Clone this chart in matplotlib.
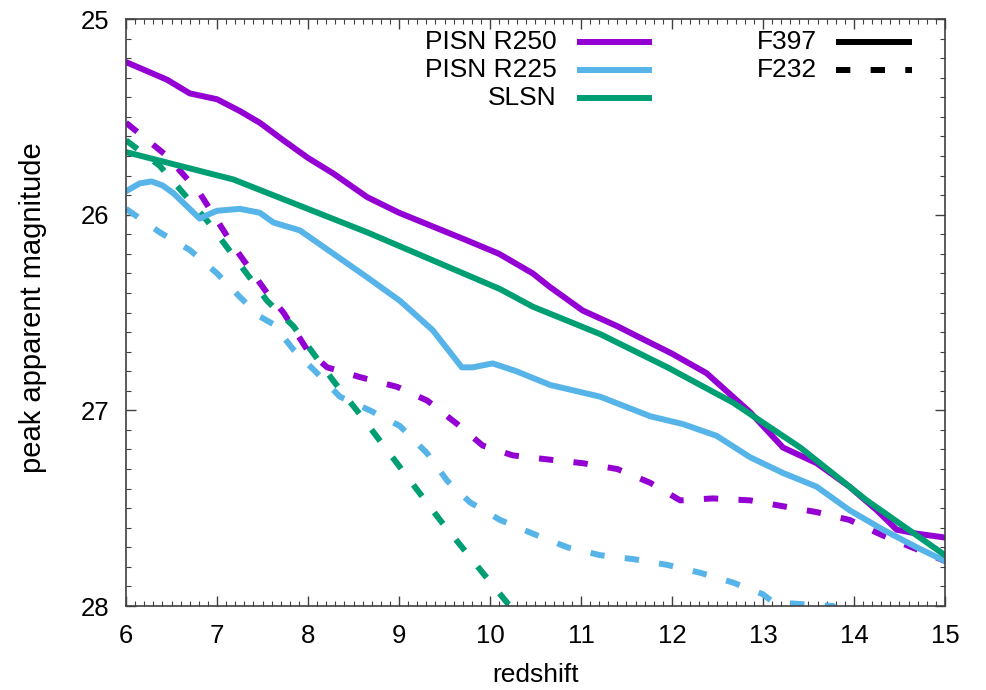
import matplotlib
matplotlib.use("Agg")
import matplotlib.pyplot as plt
from matplotlib.ticker import MultipleLocator

plt.rcParams["font.family"] = ["Liberation Sans", "DejaVu Sans"]

PURPLE = "#9400d3"
BLUE = "#56b4e9"
GREEN = "#009e73"

# PISN R250, F397 (solid)
r250_f397_z = [6.0, 6.2, 6.45, 6.7, 7.0, 7.25, 7.47, 7.73, 8.0, 8.28, 8.65, 9.0, 9.37, 9.74,
               10.1, 10.47, 10.66, 11.02, 11.4, 11.57, 12.0, 12.38, 12.86, 13.22, 13.59,
               13.95, 14.25, 14.47, 14.69, 15.0]
r250_f397_m = [25.22, 25.26, 25.31, 25.38, 25.41, 25.47, 25.53, 25.62, 25.71, 25.79, 25.91,
               25.99, 26.06, 26.13, 26.20, 26.30, 26.37, 26.49, 26.57, 26.61, 26.71, 26.81,
               27.01, 27.19, 27.27, 27.39, 27.51, 27.61, 27.63, 27.65]

# PISN R225, F397 (solid)
r225_f397_z = [6.0, 6.15, 6.28, 6.4, 6.52, 6.81, 6.9, 7.0, 7.25, 7.47, 7.62, 7.91, 8.28, 8.65,
               9.01, 9.37, 9.69, 9.81, 10.03, 10.29, 10.66, 11.21, 11.76, 12.12, 12.49,
               12.86, 13.22, 13.59, 13.95, 14.32, 14.69, 15.0]
r225_f397_m = [25.88, 25.84, 25.83, 25.85, 25.89, 26.02, 26.00, 25.98, 25.97, 25.99, 26.04,
               26.08, 26.20, 26.32, 26.44, 26.59, 26.78, 26.78, 26.76, 26.80, 26.87, 26.93,
               27.03, 27.07, 27.13, 27.24, 27.32, 27.39, 27.51, 27.61, 27.70, 27.77]

# SLSN, F397 (solid)
slsn_f397_z = [6.0, 7.18, 8.65, 10.11, 10.47, 11.21, 11.95, 12.67, 13.41, 14.14, 15.0]
slsn_f397_m = [25.68, 25.82, 26.09, 26.38, 26.47, 26.61, 26.78, 26.96, 27.19, 27.46, 27.74]

# PISN R250, F232 (dashed)
r250_f232_z = [6.0, 6.45, 6.81, 7.18, 7.55, 7.73, 7.99, 8.21, 8.57, 8.98, 9.31, 9.64, 9.92,
               10.25, 10.62, 11.02, 11.4, 11.76, 12.09, 12.45, 12.86, 13.22, 13.59, 13.95,
               14.32, 14.69, 15.0]
r250_f232_m = [25.53, 25.70, 25.89, 26.16, 26.40, 26.50, 26.69, 26.78, 26.83, 26.88, 26.95,
               27.07, 27.18, 27.23, 27.25, 27.27, 27.30, 27.37, 27.46, 27.45, 27.46, 27.49,
               27.52, 27.56, 27.64, 27.71, 27.77]

# PISN R225, F232 (dashed)
r225_f232_z = [6.0, 6.37, 6.70, 7.0, 7.25, 7.47, 7.62, 7.84, 8.1, 8.35, 8.68, 9.01, 9.31,
               9.53, 9.78, 10.11, 10.47, 10.85, 11.21, 11.57, 11.95, 12.31, 12.67, 13.0,
               13.11, 13.41, 13.77, 14.0]
r225_f232_m = [25.97, 26.09, 26.18, 26.30, 26.42, 26.52, 26.56, 26.69, 26.81, 26.93, 27.00,
               27.08, 27.22, 27.36, 27.47, 27.56, 27.63, 27.70, 27.74, 27.76, 27.79, 27.83,
               27.88, 27.94, 27.98, 27.99, 28.0, 28.1]

# SLSN, F232 (dashed)
slsn_f232_z = [6.0, 6.37, 6.63, 6.89, 7.18, 7.55, 7.84, 8.28, 8.57, 9.01, 9.45, 9.92, 10.2, 10.5]
slsn_f232_m = [25.62, 25.75, 25.89, 26.03, 26.21, 26.44, 26.57, 26.85, 27.02, 27.29, 27.56,
               27.83, 27.99, 28.16]

LW = 4.3
DASH = (0, (2.4, 3.4))  # in units of linewidth

fig = plt.figure(figsize=(9.87, 6.9), dpi=100)
ax = fig.add_axes([0.1277, 0.1217, 0.8297, 0.8507])

ax.plot(slsn_f232_z, slsn_f232_m, color=GREEN, lw=LW, linestyle=DASH)
ax.plot(r225_f232_z, r225_f232_m, color=BLUE, lw=LW, linestyle=DASH)
ax.plot(r250_f232_z, r250_f232_m, color=PURPLE, lw=LW, linestyle=DASH)
ax.plot(r225_f397_z, r225_f397_m, color=BLUE, lw=LW, solid_joinstyle="round")
ax.plot(r250_f397_z, r250_f397_m, color=PURPLE, lw=LW, solid_joinstyle="round")
ax.plot(slsn_f397_z, slsn_f397_m, color=GREEN, lw=LW, solid_joinstyle="round")

ax.set_xlim(6, 15)
ax.set_ylim(28, 25)
ax.xaxis.set_major_locator(MultipleLocator(1))
ax.xaxis.set_minor_locator(MultipleLocator(0.1))
ax.yaxis.set_major_locator(MultipleLocator(1))
ax.yaxis.set_minor_locator(MultipleLocator(0.1))
ax.tick_params(which="both", direction="in", top=True, right=True, colors="#404040",
               labelcolor="black", labelsize=18.5)
ax.tick_params(which="major", length=7, width=1.0)
ax.tick_params(which="minor", length=3.5, width=0.8)
ax.tick_params(axis="x", pad=13)
ax.tick_params(axis="y", pad=12)
for sp in ax.spines.values():
    sp.set_color("#404040")
    sp.set_linewidth(1.2)

ax.set_xlabel("redshift", fontsize=19, labelpad=11)
ax.set_ylabel("peak apparent magnitude", fontsize=21)
ax.yaxis.set_label_coords(-0.097, 0.508)

# gnuplot-style key: text right-aligned, sample line to the right
rows = [0.961, 0.913, 0.865]
left_keys = [("PISN R250", PURPLE), ("PISN R225", BLUE), ("SLSN", GREEN)]
for (lab, col), yy in zip(left_keys, rows):
    ax.text(0.526, yy, lab, transform=ax.transAxes, ha="right", va="center", fontsize=19)
    ax.plot([0.551, 0.642], [yy, yy], transform=ax.transAxes, color=col, lw=LW,
            solid_capstyle="butt", clip_on=False)
right_keys = [("F397", "-"), ("F232", DASH)]
for (lab, ls), yy in zip(right_keys, rows[:2]):
    ax.text(0.844, yy, lab, transform=ax.transAxes, ha="right", va="center", fontsize=19)
    ax.plot([0.867, 0.960], [yy, yy], transform=ax.transAxes, color="black", lw=LW,
            linestyle=ls, solid_capstyle="butt", clip_on=False)

fig.savefig("out.png", dpi=100)
